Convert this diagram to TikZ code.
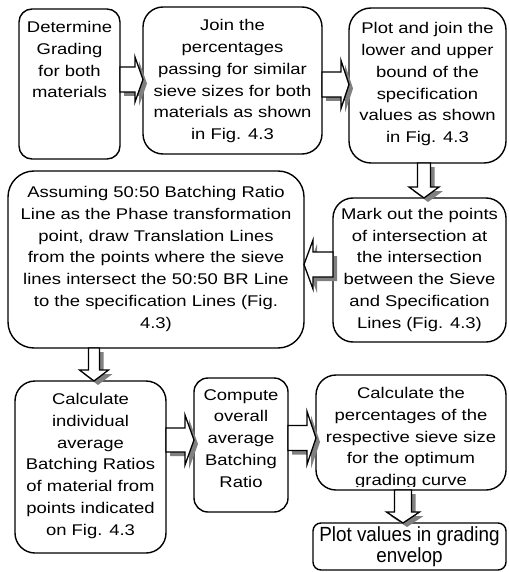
\documentclass[tikz,border=0pt]{standalone}
\usepackage{fontspec}
\setmainfont[FakeStretch=1.19]{Liberation Sans}
\newfontfamily\envfont[FakeStretch=0.92]{Liberation Sans}
\usetikzlibrary{calc,fit}
\tikzset{
  box/.style={draw, line width=1.4pt, fill=white, inner sep=0pt, outer sep=0pt},
  txt/.style={align=center, inner sep=0pt, anchor=base, font=\fontsize{15.5}{21.7}\selectfont},
  arrowshadow/.style={fill=black!50, draw=none, transform canvas={shift={(4pt,-4pt)}}},
  arrowbody/.style={fill=white, draw, line width=1.3pt, line join=miter},
}
% #1 base, #2 tip, #3 shaft half width, #4 head half width, #5 head length, #6 name
\newcommand{\blockarrow}[6]{%
  \coordinate (#6-n) at ($(#2)!#5!(#1)$);
  \coordinate (#6-a1) at ($(#1)!#3!90:(#2)$);
  \coordinate (#6-a2) at ($(#6-n)!#3!90:(#2)$);
  \coordinate (#6-a3) at ($(#6-n)!#4!90:(#2)$);
  \coordinate (#6-a4) at ($(#6-n)!#4!-90:(#2)$);
  \coordinate (#6-a5) at ($(#6-n)!#3!-90:(#2)$);
  \coordinate (#6-a6) at ($(#1)!#3!-90:(#2)$);
  \fill[arrowshadow] (#6-a1) -- (#6-a2) -- (#6-a3) -- (#2) -- (#6-a4) -- (#6-a5) -- (#6-a6) -- cycle;
  \draw[arrowbody] (#6-a1) -- (#6-a2) -- (#6-a3) -- (#2) -- (#6-a4) -- (#6-a5) -- (#6-a6) -- cycle;
}
\begin{document}
\begin{tikzpicture}[x=1pt, y=-1pt]
\useasboundingbox (0,0) rectangle (508,572);

% boxes
\node[box, rounded corners=13pt, fit={(19,9) (120,159)}] (b1) {};
\node[box, rounded corners=20pt, fit={(143,7) (322,154)}] (b2) {};
\node[box, rounded corners=22pt, fit={(349,8) (506,163)}] (b3) {};
\node[box, rounded corners=20pt, fit={(333,198) (506,342)}] (b4) {};
\node[box, rounded corners=26pt, fit={(8,171) (304,348)}] (b5) {};
\node[box, rounded corners=20pt, fit={(15,381) (166,553)}] (b6) {};
\node[box, rounded corners=14pt, fit={(194,378) (288,512)}] (b7) {};
\node[box, rounded corners=20pt, fit={(316,375) (506,490)}] (b8) {};
\node[box, rounded corners=8pt, fit={(313,523) (506,570)}] (b9) {};

% texts (anchored at the baseline of their last line)
\node[txt] (t1) at (b1.center |- 0,97.8) {Determine\\Grading\\for both\\materials};
\node[txt] (t2) at (b2.center |- 0,139.5) {Join the\\percentages\\passing for similar\\sieve sizes for both\\materials as shown\\in Fig. 4.3};
\node[txt] (t3) at (b3.center |- 0,142.5) {Plot and join the\\lower and upper\\bound of the\\specification\\values as shown\\in Fig. 4.3};
\node[txt] (t4) at (b4.center |- 0,328) {Mark out the points\\of intersection at\\the intersection\\between the Sieve\\and Specification\\Lines (Fig. 4.3)};
\node[txt] (t5) at (b5.center |- 0,328) {Assuming 50:50 Batching Ratio\\Line as the Phase transformation\\point, draw Translation Lines\\from the points where the sieve\\lines intersect the 50:50 BR Line\\to the specification Lines (Fig.\\4.3)};
\node[txt] (t6) at (b6.center |- 0,535) {Calculate\\individual\\average\\Batching Ratios\\of material from\\points indicated\\on Fig. 4.3};
\node[txt] (t7) at (b7.center |- 0,487) {Compute\\overall\\average\\Batching\\Ratio};
\begin{scope}
  \clip (b8.north west) rectangle ([yshift=4pt]b8.south east);
  \node[txt] (t8) at (b8.center |- 0,485.5) {Calculate the\\percentages of the\\respective sieve size\\for the optimum\\grading curve};
\end{scope}
\node[txt, font=\envfont\fontsize{20.5}{17}\selectfont] (t9) at (b9.center |- 0,562) {Plot values in grading\\envelop};

% block arrows
\coordinate (a12s) at (b1.east |- 0,79.5);
\coordinate (a12t) at (b2.west |- 0,79.5);
\blockarrow{a12s}{a12t}{12.5pt}{22.5pt}{8pt}{a12}
\coordinate (a23s) at (b2.east |- 0,84.5);
\coordinate (a23t) at (b3.west |- 0,84.5);
\blockarrow{a23s}{a23t}{12.5pt}{24pt}{8pt}{a23}
\coordinate (a34s) at (b3.south -| 424,0);
\coordinate (a34t) at (b4.north -| 424,0);
\blockarrow{a34s}{a34t}{6.5pt}{15pt}{11pt}{a34}
\coordinate (a45s) at (b4.west |- 0,264.5);
\coordinate (a45t) at (b5.east |- 0,264.5);
\blockarrow{a45s}{a45t}{12.5pt}{24.5pt}{9pt}{a45}
\coordinate (a56s) at (b5.south -| 94,0);
\coordinate (a56t) at (b6.north -| 94,0);
\blockarrow{a56s}{a56t}{5.5pt}{14.5pt}{11pt}{a56}
\coordinate (a67s) at (b6.east |- 0,440);
\coordinate (a67t) at (b7.west |- 0,440);
\blockarrow{a67s}{a67t}{12pt}{25pt}{9pt}{a67}
\coordinate (a78s) at (b7.east |- 0,438);
\coordinate (a78t) at (b8.west |- 0,438);
\blockarrow{a78s}{a78t}{12.5pt}{26.5pt}{9pt}{a78}
\coordinate (a89s) at (b8.south -| 403,0);
\coordinate (a89t) at (b9.north -| 403,0);
\blockarrow{a89s}{a89t}{8.5pt}{16.5pt}{11pt}{a89}
\end{tikzpicture}
\end{document}
